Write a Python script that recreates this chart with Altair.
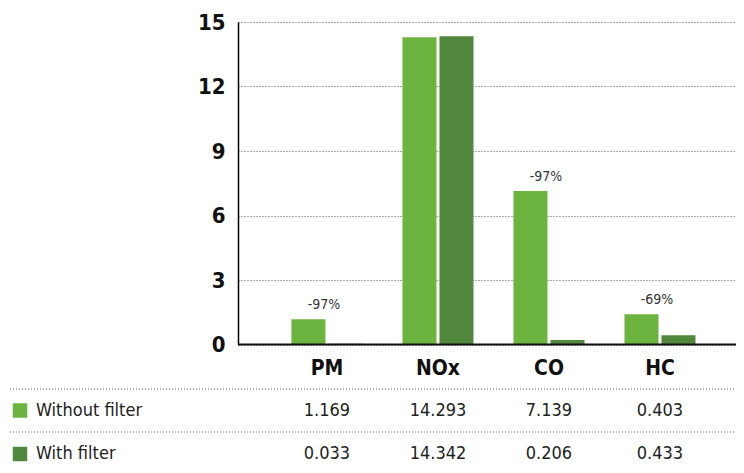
import altair as alt
import pandas as pd

cats = ["PM", "NOx", "CO", "HC"]
series = ["Without filter", "With filter"]
without_vals = [1.169, 14.293, 7.139, 1.403]
with_vals = [0.033, 14.342, 0.206, 0.433]
without_labels = ["1.169", "14.293", "7.139", "0.403"]
with_labels = ["0.033", "14.342", "0.206", "0.433"]
change_labels = ["-97%", "", "-97%", "-69%"]
y_ticks = [0, 3, 6, 9, 12, 15]
colors = ["#6db33f", "#52883d"]

FONT = "DejaVu Sans Condensed, Liberation Sans Narrow, sans-serif"

rows = []
for c, a, b, la, lb in zip(cats, without_vals, with_vals, without_labels, with_labels):
    rows.append({"category": c, "series": series[0], "value": a, "label": la})
    rows.append({"category": c, "series": series[1], "value": b, "label": lb})
df = pd.DataFrame(rows)

ann = pd.DataFrame({"category": cats, "value": without_vals, "change": change_labels})
ann = ann[ann["change"] != ""]

leg = pd.DataFrame({"series": series})

W, H = 498, 322.5
xscale = alt.Scale(domain=cats, paddingInner=0, paddingOuter=0.243, align=0.62)
cscale = alt.Scale(domain=series, range=colors)
xenc = alt.X("category:N", scale=xscale, sort=cats, title=None,
             axis=alt.Axis(domain=False, ticks=False, grid=False, labelAngle=0, labelFont=FONT,
                           labelFontSize=21, labelFontWeight="bold", labelColor="#111",
                           labelPadding=13))

bars = alt.Chart(df).mark_bar().encode(
    x=xenc,
    xOffset=alt.XOffset("series:N", sort=series,
                        scale=alt.Scale(paddingInner=0.081, paddingOuter=0.54)),
    y=alt.Y("value:Q", scale=alt.Scale(domain=[0, 15], nice=False), title=None,
            axis=alt.Axis(values=y_ticks, grid=True, gridDash=[1, 2], gridColor="#555",
                          gridWidth=1, domain=True, domainColor="#000", domainWidth=1.5,
                          ticks=False, labelFont=FONT, labelFontSize=22,
                          labelFontWeight="bold", labelColor="#111", labelPadding=13)),
    color=alt.Color("series:N", scale=cscale, legend=None),
)

baseline = alt.Chart(leg.head(1)).mark_rule(color="#111", strokeWidth=2).encode(
    x=alt.value(0), x2=alt.value(W), y=alt.value(H)
)

annot = alt.Chart(ann).mark_text(font=FONT, fontSize=14, color="#333", dy=-14, dx=-3,
                                 baseline="middle").encode(
    x=xenc,
    y=alt.Y("value:Q"),
    text="change:N",
)

table_layers = []
for s, ypix, lpix in zip(series, [388.5, 432], [367, 410]):
    sub = df[df["series"] == s]
    table_layers.append(
        alt.Chart(sub).mark_text(font=FONT, fontSize=18, color="#222", baseline="middle").encode(
            x=xenc,
            y=alt.value(ypix),
            text="label:N",
        )
    )
    table_layers.append(
        alt.Chart(leg.head(1)).mark_rule(color="#666", strokeDash=[1, 2], strokeWidth=1).encode(
            x=alt.value(-228), x2=alt.value(W), y=alt.value(lpix)
        )
    )
    ls = leg[leg["series"] == s]
    table_layers.append(
        alt.Chart(ls).mark_square(size=210, opacity=1).encode(
            x=alt.value(-218), y=alt.value(ypix),
            color=alt.Color("series:N", scale=cscale, legend=None),
        )
    )
    table_layers.append(
        alt.Chart(ls).mark_text(font=FONT, fontSize=18, color="#222", align="left",
                                baseline="middle").encode(
            x=alt.value(-202), y=alt.value(ypix), text="series:N"
        )
    )

chart = alt.layer(bars, baseline, annot, *table_layers).properties(
    width=W, height=H,
    autosize=alt.AutoSizeParams(type="none"),
    padding={"left": 230, "top": 14, "right": 0, "bottom": 118},
).configure_view(stroke=None)

chart.save("out.html", embed_options={"renderer": "svg", "actions": False})
